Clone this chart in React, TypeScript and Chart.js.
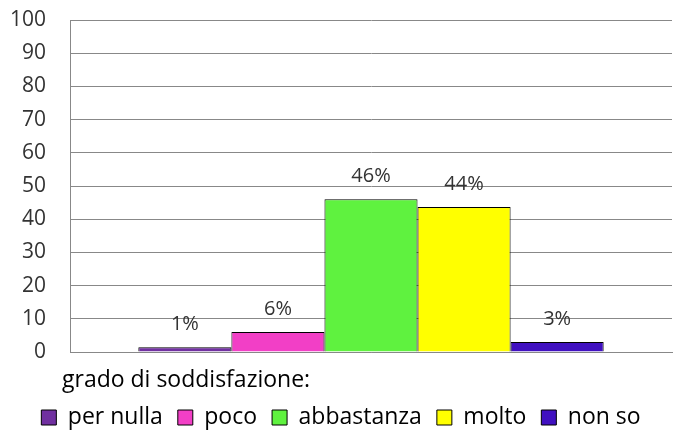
import React, { useEffect, useRef } from "react";
import { Chart, registerables } from "chart.js";

Chart.register(...registerables);

const categories = ["per nulla", "poco", "abbastanza", "molto", "non so"];
const values = [1.4, 6, 46, 43.7, 3];
const valueLabels = ["1%", "6%", "46%", "44%", "3%"];
const colors = ["#7030A0", "#F23FC6", "#5FF23F", "#FFFF00", "#4010C0"];
const yTicks = [0, 10, 20, 30, 40, 50, 60, 70, 80, 90, 100];
const axisTitle = "grado di soddisfazione:";

const FONT = "'Open Sans', 'DejaVu Sans', sans-serif";

const labelPlugin = {
  id: "valueLabels",
  afterDatasetsDraw(chart: any) {
    const ctx = chart.ctx;
    ctx.save();
    ctx.font = `20px ${FONT}`;
    ctx.fillStyle = "#333333";
    ctx.textAlign = "center";
    ctx.textBaseline = "middle";
    chart.data.datasets.forEach((ds: any, i: number) => {
      const meta = chart.getDatasetMeta(i);
      const el = meta.data[0];
      if (!el) return;
      ctx.fillText(valueLabels[i], el.x, el.y - 23);
    });
    ctx.restore();
  },
  afterDraw(chart: any) {
    const ctx = chart.ctx;
    ctx.save();
    ctx.font = `23px ${FONT}`;
    ctx.fillStyle = "#000000";
    ctx.textAlign = "left";
    ctx.textBaseline = "middle";
    ctx.fillText(axisTitle, chart.chartArea.left - 8, chart.chartArea.bottom + 28);
    ctx.restore();
  },
};

export default function App() {
  const ref = useRef<HTMLCanvasElement>(null);
  useEffect(() => {
    document.body.style.margin = "0";
    const chart = new Chart(ref.current!, {
      type: "bar",
      data: {
        labels: [""],
        datasets: categories.map((c, i) => ({
          label: c,
          data: [values[i]],
          backgroundColor: colors[i],
          borderColor: "#000000",
          borderWidth: 1,
          categoryPercentage: 0.773,
          barPercentage: 1,
        })),
      },
      options: {
        animation: false,
        responsive: false,
        maintainAspectRatio: false,
        layout: { padding: { top: 20, right: 1, left: 10, bottom: -8 } },
        plugins: {
          tooltip: { enabled: false },
          legend: {
            position: "bottom",
            labels: {
              boxWidth: 15,
              boxHeight: 15,
              padding: 15,
              color: "#000000",
              font: { family: FONT, size: 23 },
            },
          },
        },
        scales: {
          x: {
            ticks: { display: false },
            grid: { display: false },
            border: { display: true, color: "#888888", width: 1 },
            afterFit: (scale: any) => {
              scale.height = 39;
            },
          },
          y: {
            min: 0,
            max: 100,
            afterBuildTicks: (scale: any) => {
              scale.ticks = yTicks.map((v) => ({ value: v }));
            },
            afterFit: (scale: any) => {
              scale.width = 60;
              scale.paddingTop = 0;
              scale.paddingBottom = 0;
            },
            ticks: {
              color: "#333333",
              font: { family: FONT, size: 21 },
              padding: 24,
            },
            grid: { color: "#888888", lineWidth: 1, drawTicks: false },
            border: { display: true, color: "#888888", width: 1 },
          },
        },
      },
      plugins: [labelPlugin],
    });
    return () => chart.destroy();
  }, []);
  return <canvas ref={ref} width={673} height={431} />;
}
